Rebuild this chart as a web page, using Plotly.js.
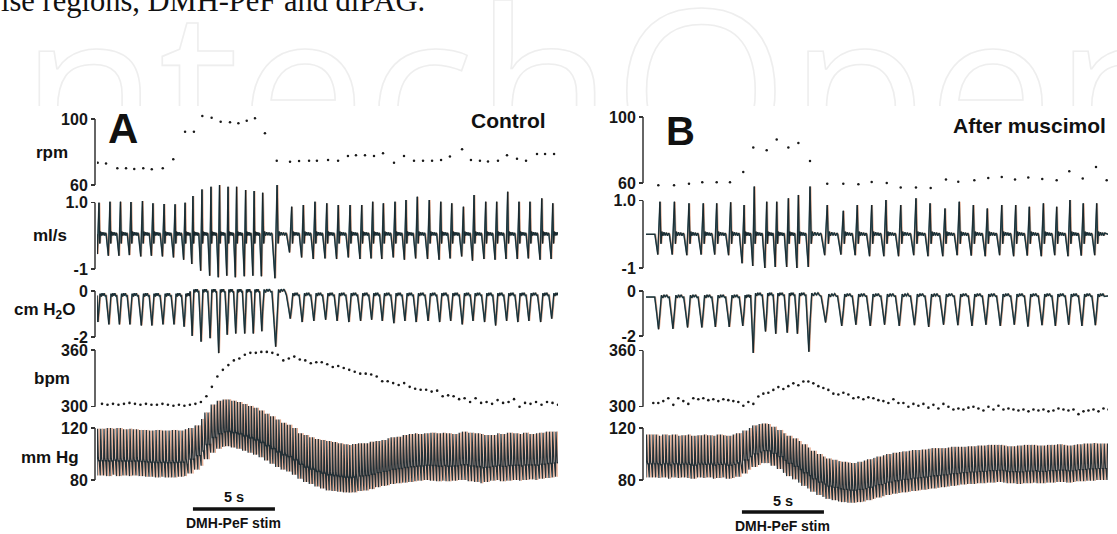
<!DOCTYPE html>
<html><head><meta charset="utf-8">
<script src="https://cdn.plot.ly/plotly-3.0.1.min.js"></script>
<style>
html,body{margin:0;padding:0;background:#fff;}
#wrap{position:relative;width:1117px;height:534px;overflow:hidden;background:#fff;}
#bg{position:absolute;left:0;top:0;}
#chart{position:absolute;left:0;top:0;width:1117px;height:534px;}
</style></head><body>
<div id="wrap">
<svg id="bg" width="1117" height="534">
  <text x="-43" y="172" font-family="Open Sans" font-size="226" fill="none" stroke="#eeeeee" stroke-width="1.6">IntechOpen</text>
  <text x="1" y="11" font-family="Liberation Serif" font-size="30.5" fill="#111">lse regions, DMH-PeF and dlPAG.</text>
</svg>
<div id="chart"></div>
</div>
<script>
// ================= DATA =================
// time in seconds; stimulation period for both panels
const stimA = [5.85, 10.85];
const stimB = [5.85, 10.85];

// ---- Panel A : Control ----
const rpmA_t = [0.04,0.55,1.24,1.77,2.27,2.82,3.34,4.01,4.65,5.37,5.91,6.42,6.99,7.54,8.11,8.62,9.13,9.63,10.24,10.96,11.77,12.32,12.93,13.41,14.09,14.70,15.30,15.79,16.34,16.89,17.44,18.11,18.72,19.33,19.88,20.43,20.98,21.52,22.26,22.80,23.35,23.84,24.45,25.00,25.61,26.16,26.83,27.32,27.87];
const rpmA = [73.5,73.1,70.1,70.1,69.7,70.1,69.5,70.1,75.6,92.3,92.3,101.8,100.8,98.4,98,97.4,99,100.4,91.3,74.7,74.1,74.5,74.7,74.7,75.2,74.7,77.6,78,78,77.6,79.2,73.5,77.6,74.7,74.7,74.7,75.2,77.2,81.6,75.2,74.7,74.3,74.7,78,75.9,74.7,78.8,78.8,78.8];

const breathA_t = [0.12,0.79,1.43,2.07,2.77,3.41,4.09,4.76,5.37,
  5.85,6.40,6.95,7.47,7.99,8.51,9.06,9.58,10.10,10.98,
  11.87,12.58,13.29,14.01,14.71,15.43,16.14,16.81,17.46,18.17,18.84,19.53,20.26,20.96,21.63,22.34,22.99,23.70,24.37,25.04,25.73,26.40,27.12,27.79];
const flowPeakA = [1.0,1.03,1.03,1.02,1.05,0.98,0.96,0.95,1.0,
  1.2,1.4,1.48,1.53,1.48,1.48,1.38,1.35,1.3,1.53,
  0.88,0.93,1.03,0.98,0.93,0.93,0.93,1.03,0.98,1.03,1.08,1.18,1.08,1.03,0.98,0.88,1.23,1.03,1.03,1.33,1.03,1.03,1.13,0.98];
const flowTroughA = [-0.55,-0.6,-0.6,-0.58,-0.62,-0.6,-0.62,-0.65,-0.72,
  -0.85,-1.05,-1.2,-1.25,-1.2,-1.25,-1.22,-1.2,-1.22,-1.28,
  -0.5,-0.65,-0.7,-0.68,-0.7,-0.65,-0.7,-0.68,-0.7,-0.65,-0.72,-0.68,-0.7,-0.72,-0.68,-0.62,-0.75,-0.7,-0.72,-0.7,-0.7,-0.68,-0.72,-0.7];
const pressDipA = [-1.35,-1.45,-1.45,-1.45,-1.5,-1.5,-1.45,-1.45,-1.55,
  -1.95,-2.2,-2.05,-2.7,-1.9,-1.85,-1.85,-1.85,-1.75,-2.42,
  -1.2,-1.35,-1.3,-1.25,-1.3,-1.35,-1.3,-1.25,-1.3,-1.4,-1.3,-1.35,-1.3,-1.35,-1.3,-1.45,-1.3,-1.35,-1.5,-1.3,-1.35,-1.3,-1.35,-1.2];
const pressTopA = [-0.2,-0.2,-0.2,-0.2,-0.2,-0.2,-0.2,-0.2,-0.2,
  -0.02,-0.02,-0.02,-0.02,-0.02,-0.02,-0.02,-0.02,-0.02,-0.02,
  -0.18,-0.18,-0.18,-0.18,-0.18,-0.18,-0.18,-0.18,-0.18,-0.18,-0.18,-0.18,-0.18,-0.18,-0.18,-0.18,-0.18,-0.18,-0.18,-0.18,-0.18,-0.18,-0.18,-0.18];

// heart rate samples (bpm) every bpmA_dt s starting at bpmA_t0
const bpmA_t0 = 0.305, bpmA_dt = 0.335;
const bpmA = [303,302,303,302,303,304,303,302,303,302,302,303,302,301,302,301,302,303,
  305,311,321,332,339,344,349,351,355,357,357,358,358,357,355,
  349,351,353,350,349,346,347,347,345,342,343,341,339,337,335,335,334,332,327,327,325,323,325,321,319,318,318,316,317,311,312,311,308,309,305,309,304,305,303,307,304,305,308,300,304,303,305,302,305,304,302];
// systolic / diastolic pressure (mm Hg) at the same samples
const sysA = [119.5,120,119.5,120,119,119.5,119,118.5,118.5,118,118.5,118,118,118.5,118,119,120,122,
  127,132,138,141,142,142,141,140,138.5,137,135.5,133.5,131,129,126.5,
  124,122.5,120,116,114.6,112.8,111.5,110.8,110,109.2,108.2,107.4,106.9,107.7,108.2,108.2,109.5,110,110.8,112.1,112.8,113.3,114.6,115.4,115.9,115.4,115.9,116.4,115.9,116.4,115.9,115.4,116.4,117.2,116.4,115.9,115.4,114.6,114.6,115.9,115.4,116.4,115.9,115.4,116.4,115.4,115.9,116.4,117.2,117.2,117.2];
const diaA = [83.5,83,84,83,83.5,83,83.5,83,82.5,82.5,82,82.5,82,82,82.5,83,85,88,
  91,96,101,104,105.5,106,105,104,102.5,101,99.5,97.5,95,92.5,90,
  88,86.5,84,81,78.5,77,75,73.5,72,71.5,71,70.5,70.3,70.5,71.5,72,73,74.5,75.5,76,77,77.5,78,78.5,79,79.5,80,79.5,79,79.5,79,79.5,80,80,79,78.5,77.5,78.5,79.5,80,79,79.5,80,79.5,80,80.5,80,81,81.5,82,82.5];

// ---- Panel B : After muscimol ----
const rpmB_t = [0.75,1.71,2.62,3.43,4.31,5.12,5.93,6.54,7.36,7.97,8.68,9.29,10.0,11.05,12.03,12.95,13.76,14.68,15.53,16.46,17.36,18.29,19.04,20.02,20.87,21.69,22.5,23.31,24.16,25.04,25.81,26.63,27.44,28.09];
const rpmB = [58.6,58.6,59.6,60.4,60.4,60.4,66.7,81.5,79.8,86.3,81.5,84.2,73.3,59.6,59.6,59.2,60.6,60,57.2,57.2,57,62.1,60.8,61.6,63,63.6,62.1,63.3,62.4,61.6,67.1,62.7,69.7,61.6];

const breathB_t = [0.85,1.73,2.62,3.49,4.31,5.16,5.98,6.60,7.36,7.97,8.68,9.29,10.0,11.05,12.03,12.88,13.76,14.63,15.53,16.46,17.32,18.23,19.10,19.96,20.81,21.69,22.54,23.37,24.23,25.04,25.85,26.66,27.48];
const flowPeakB = [0.97,0.97,0.92,0.92,0.92,0.95,0.87,1.42,0.97,0.97,1.07,1.17,1.42,0.87,0.70,
  0.87,0.87,1.02,0.87,1.07,0.92,0.77,0.97,0.87,0.77,0.87,0.87,0.82,0.92,0.82,1.02,0.92,0.92];
const flowTroughB = [-0.6,-0.6,-0.62,-0.6,-0.6,-0.62,-0.86,-0.94,-1.0,-0.97,-0.97,-1.0,-0.97,
  -0.62,-0.6,-0.62,-0.65,-0.65,-0.65,-0.62,-0.65,-0.65,-0.62,-0.63,-0.65,-0.62,-0.65,-0.63,-0.65,-0.62,-0.65,-0.63,-0.62];
const pressDipB = [-1.7,-1.68,-1.62,-1.62,-1.6,-1.6,-1.55,-2.75,-1.8,-1.9,-1.85,-1.9,-2.7,
  -1.4,-1.55,-1.5,-1.55,-1.5,-1.55,-1.52,-1.6,-1.5,-1.52,-1.55,-1.5,-1.55,-1.5,-1.58,-1.52,-1.55,-1.5,-1.55,-1.52];
const pressTopB = [-0.27,-0.27,-0.27,-0.27,-0.27,-0.27,-0.27,-0.18,-0.18,-0.18,-0.18,-0.18,-0.18,
  -0.22,-0.22,-0.22,-0.22,-0.22,-0.22,-0.22,-0.22,-0.22,-0.22,-0.22,-0.22,-0.22,-0.22,-0.22,-0.22,-0.22,-0.22,-0.22,-0.22];

const bpmB_t0 = 0.445, bpmB_dt = 0.305;
const bpmB = [304,304,306,309,302,309,306,303,309,308,309,307,308,306,308,307,306,305,301,305,303,311,314,315,318,321,319,322,325,323,327,327,325,322,320,318,314,313,315,313,309,310,308,310,309,307,306,304,
  308,304,304,300,303,301,303,299,302,298,303,300,297,298,297,299,300,298,296,300,297,301,297,298,297,296,297,295,297,296,297,295,296,298,297,296,297,292,295,296,297,295,298,297];
const sysB = [115,114,115,114.5,115,114,114.5,115,114,114.5,115,114.5,114,115,114.5,114,115,116,118,
  120,122,123,123.5,123,121,118.5,116,114,112,110,107.5,105,102.5,100,98,96.5,95.5,94.5,94,93.5,93,94,95,96,97,98,99,100,
  101,101.5,102,102.5,103,103,103.5,104,104.5,104.5,104.5,105,105.5,105.5,105.5,106,106,106.5,106.5,107,107,107,106.5,106,106,106.5,107,107,107,106.5,106.5,107,107,107.5,107,106.5,107,107.5,108,108,108.5,108,108,108];
const diaB = [82,81.5,82,81,82,81.5,82,81.5,81,82,81.5,82,81,81.5,82,81,81.5,82.5,85,
  88,90,91.5,93,93,91,88.5,85.5,83,80.5,78,75.5,73.5,71,68.5,67,65.5,64.5,63.5,63,62.5,62.5,63,63.5,64.5,65.5,66.5,67.5,68.5,
  69.5,70,70.5,71,71.5,72,72.5,73,73.5,74,74.5,75,75.5,76,76.5,77,77,77.5,77.5,78,78,78.5,78,77.5,77.5,77,77.5,77.5,78,77.5,77.5,78,78,78.5,78.5,78,78.5,79,79,79.5,79.5,80,80,80];

// axis tick values / labels
const tickRpm = [60,100], tickRpmTxt = ['60','100'];
const tickFlow = [-1,1], tickFlowTxt = ['-1','1.0'];
const tickPress = [-2,0], tickPressTxt = ['-2','0'];
const tickBpm = [300,360], tickBpmTxt = ['300','360'];
const tickBP = [80,120], tickBPTxt = ['80','120'];
const unitLabels = ['rpm','ml/s','cm H<sub>2</sub>O','bpm','mm Hg'];

// ================= DRAWING =================
const W = 1117, H = 534;
const PXS = 16.4;               // px per second (5 s bar = 82 px)
const endA = 461 / PXS, endB = 462 / PXS;
const F = 'Liberation Sans, Arial, sans-serif';
const DARK = '#161e22', TEAL = '#35606b', ORANGE = '#e7a98d';

function flowWave(tp, pk, tr, base, tEnd) {
  const x = [0], y = [base], n = tp.length;
  for (let k = 0; k < n; k++) {
    const Tb = k > 0 ? tp[k] - tp[k-1] : tp[1] - tp[0];
    const Ta = k < n-1 ? tp[k+1] - tp[k] : Tb;
    const pts = [[-0.35*Tb, base], [-0.15*Tb, tr[k]], [0, pk[k]], [0.07*Ta, base-0.28], [0.13*Ta, base+0.08],
      [0.2*Ta, base-0.04], [0.28*Ta, base+0.06], [0.36*Ta, base-0.03], [0.44*Ta, base+0.05], [0.52*Ta, base-0.04], [0.6*Ta, base+0.04]];
    for (const [d, v] of pts) { const t = tp[k] + d; if (t > 0 && t < tEnd) { x.push(t); y.push(v); } }
  }
  x.push(tEnd); y.push(base);
  return {x, y};
}
function pressWave(tp, dip, top, tEnd) {
  const x = [0], y = [top[0]], n = tp.length;
  for (let k = 0; k < n; k++) {
    const Tb = k > 0 ? tp[k] - tp[k-1] : tp[1] - tp[0];
    const Ta = k < n-1 ? tp[k+1] - tp[k] : Tb;
    const b = top[k], d = dip[k];
    const pts = [[-0.36*Tb, b], [-0.2*Tb, b+0.6*(d-b)], [-0.10*Tb, d], [0.0*Ta, b+0.5*(d-b)], [0.1*Ta, b+0.08],
      [0.2*Ta, b-0.04], [0.28*Ta, b+0.1], [0.37*Ta, b], [0.46*Ta, b+0.1], [0.56*Ta, b-0.02]];
    for (const [o, v] of pts) { const t = tp[k] + o; if (t > 0 && t < tEnd) { x.push(t); y.push(v); } }
  }
  x.push(tEnd); y.push(top[n-1]);
  return {x, y};
}
function bpWave(t0, dt, bpm, sys, dia, tEnd) {
  const x = [], y = [];
  let t = 0;
  while (t < tEnd) {
    let i = Math.round((t - t0) / dt); i = Math.max(0, Math.min(bpm.length-1, i));
    const P = 60 / bpm[i], s = sys[i], d = dia[i], pp = s - d;
    const pts = [[0, d], [0.16*P, s], [0.4*P, d+0.38*pp], [0.55*P, d+0.3*pp], [0.68*P, d+0.33*pp]];
    for (const [o, v] of pts) { if (t + o <= tEnd) { x.push(t + o); y.push(v); } }
    t += P;
  }
  return {x, y};
}
function sampleTimes(t0, dt, n) { const a = []; for (let i = 0; i < n; i++) a.push(t0 + i*dt); return a; }

const traces = [];
function lineSet(w, xa, ya, layers) {
  for (const L of layers) {
    traces.push({x: w.x.map(v => v + (L.off||0)), y: w.y, xaxis: xa, yaxis: ya, mode: 'lines',
      line: {color: L.c, width: L.w}, hoverinfo: 'skip'});
  }
}
function dots(x, y, xa, ya, size) {
  traces.push({x, y, xaxis: xa, yaxis: ya, mode: 'markers', marker: {size, color: '#1a1a1a'}, hoverinfo: 'skip'});
}
const respLayers = [{c: ORANGE, w: 1.1, off: 0.05}, {c: TEAL, w: 1.5}, {c: DARK, w: 0.8}];
const bpLayers = [{c: ORANGE, w: 0.9, off: 0.1}, {c: '#243036', w: 1.25}];

// Panel A
dots(rpmA_t, rpmA, 'x', 'y', 2.5);
lineSet(flowWave(breathA_t, flowPeakA, flowTroughA, 0.05, endA), 'x', 'y2', respLayers);
lineSet(pressWave(breathA_t, pressDipA, pressTopA, endA), 'x', 'y3', respLayers);
dots(sampleTimes(bpmA_t0, bpmA_dt, bpmA.length), bpmA, 'x', 'y4', 2.6);
lineSet(bpWave(bpmA_t0, bpmA_dt, bpmA, sysA, diaA, endA), 'x', 'y5', bpLayers);
// Panel B
dots(rpmB_t, rpmB, 'x2', 'y6', 2.5);
lineSet(flowWave(breathB_t, flowPeakB, flowTroughB, 0.0, endB), 'x2', 'y7', respLayers);
lineSet(pressWave(breathB_t, pressDipB, pressTopB, endB), 'x2', 'y8', respLayers);
dots(sampleTimes(bpmB_t0, bpmB_dt, bpmB.length), bpmB, 'x2', 'y9', 2.6);
lineSet(bpWave(bpmB_t0, bpmB_dt, bpmB, sysB, diaB, endB), 'x2', 'y10', bpLayers);

// ---- layout ----
const layout = {
  width: W, height: H, margin: {l: 0, r: 0, t: 0, b: 0},
  paper_bgcolor: 'rgba(0,0,0,0)', plot_bgcolor: 'rgba(0,0,0,0)', showlegend: false,
  xaxis: {domain: [97/W, 558/W], range: [0, endA], visible: false, fixedrange: true, anchor: 'y'},
  xaxis2: {domain: [646/W, 1108/W], range: [0, endB], visible: false, fixedrange: true, anchor: 'y6'},
  shapes: [], annotations: []
};
// white figure area (hides the watermark behind the traces)
layout.shapes.push({type: 'rect', xref: 'paper', yref: 'paper', x0: 32/W, x1: 1109/W, y0: 0, y1: 1 - 106/H,
  fillcolor: '#ffffff', line: {width: 0}, layer: 'below'});

function yAxis(key, yref, xposPx, topPx, botPx, hi, lo, padTop, padBot, tv, tt) {
  const ppu = (botPx - topPx) / (hi - lo);
  const xpos = xposPx / W;
  layout[key] = {
    domain: [1 - (botPx + padBot)/H, 1 - (topPx - padTop)/H],
    range: [lo - padBot/ppu, hi + padTop/ppu],
    anchor: 'free', position: xpos, showgrid: false, zeroline: false, showline: false,
    ticks: 'outside', ticklen: 4, tickwidth: 1.5, tickcolor: '#333',
    tickvals: tv, ticktext: tt, fixedrange: true,
    tickfont: {family: F, size: 16, color: '#161616', weight: 'bold'}
  };
  layout.shapes.push({type: 'line', xref: 'paper', yref: yref, x0: xpos, x1: xpos, y0: lo, y1: hi,
    line: {color: '#333', width: 1.5}});
}
// Panel A axes
yAxis('yaxis',  'y',  95, 119, 185, 100, 60, 14, 8, tickRpm, tickRpmTxt);
yAxis('yaxis2', 'y2', 95, 202.7, 269, 1, -1, 20, 14, tickFlow, tickFlowTxt);
yAxis('yaxis3', 'y3', 95, 291, 337, 0, -2, 6, 20, tickPress, tickPressTxt);
yAxis('yaxis4', 'y4', 95, 350, 406.7, 360, 300, 4, 6, tickBpm, tickBpmTxt);
yAxis('yaxis5', 'y5', 95, 428, 480, 120, 80, 32, 16, tickBP, tickBPTxt);
// Panel B axes
yAxis('yaxis6',  'y6',  643, 117, 183, 100, 60, 14, 10, tickRpm, tickRpmTxt);
yAxis('yaxis7',  'y7',  643, 200.7, 268, 1, -1, 18, 12, tickFlow, tickFlowTxt);
yAxis('yaxis8',  'y8',  643, 291, 336, 0, -2, 6, 22, tickPress, tickPressTxt);
yAxis('yaxis9',  'y9',  643, 350.7, 406.7, 360, 300, 4, 10, tickBpm, tickBpmTxt);
yAxis('yaxis10', 'y10', 643, 428, 480, 120, 80, 10, 30, tickBP, tickBPTxt);

function txt(text, xPx, yPx, size, xa) {
  layout.annotations.push({text, x: xPx/W, y: 1 - yPx/H, xref: 'paper', yref: 'paper', showarrow: false,
    xanchor: xa || 'center', yanchor: 'middle', font: {family: F, size, color: '#111', weight: 'bold'}});
}
// unit labels (panel A only)
const unitY = [152, 236, 311, 378, 457], unitX = [52, 50, 44, 52, 50];
unitLabels.forEach((u, i) => txt(u, unitX[i], unitY[i], 17));
txt('A', 123, 128, 42);
txt('B', 680, 131, 40);
txt('Control', 548, 120, 21, 'right');
txt('After muscimol', 1108, 125, 21, 'right');

// stimulation scale bars
function stimBar(xref, stim, yPx, labY1, labY2) {
  layout.shapes.push({type: 'line', xref, yref: 'paper', x0: stim[0], x1: stim[1], y0: 1 - yPx/H, y1: 1 - yPx/H,
    line: {color: '#111', width: 3.5}});
  const mid = (stim[0] + stim[1]) / 2;
  layout.annotations.push({text: (stim[1]-stim[0]) + ' s', x: mid, y: 1 - labY1/H, xref, yref: 'paper', showarrow: false,
    xanchor: 'center', yanchor: 'middle', font: {family: F, size: 14.5, color: '#111', weight: 'bold'}});
  layout.annotations.push({text: 'DMH-PeF stim', x: mid, y: 1 - labY2/H, xref, yref: 'paper', showarrow: false,
    xanchor: 'center', yanchor: 'middle', font: {family: F, size: 14, color: '#111', weight: 'bold'}});
}
stimBar('x', stimA, 509, 497, 523);
stimBar('x2', stimB, 512, 501, 526);

Plotly.newPlot('chart', traces, layout, {staticPlot: true, displayModeBar: false});
</script>
</body></html>
